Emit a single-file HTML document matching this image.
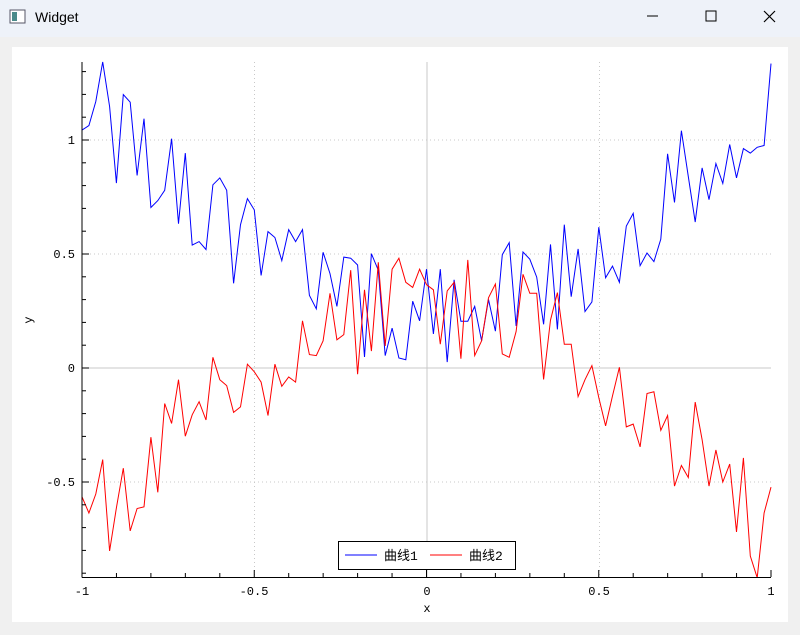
<!DOCTYPE html>
<html><head><meta charset="utf-8"><style>
body{margin:0;width:800px;height:635px;background:#f0f0f0;overflow:hidden;font-family:"Liberation Sans","Noto Sans CJK SC",sans-serif}
.tb{position:absolute;left:0;top:0;width:800px;height:37px;background:#eef2f9}
.pn{position:absolute;left:12px;top:47px;width:776px;height:575px;background:#fff}
svg{position:absolute;left:0;top:0}
</style></head><body>
<div class="tb"></div>
<div class="pn"></div>
<svg id="s" width="800" height="635" font-family="Liberation Mono, Noto Sans CJK SC, monospace" font-size="12">
<rect x="10" y="10" width="15" height="13" fill="#fff" stroke="#556" stroke-width="1"/>
<rect x="12" y="12" width="5" height="9" fill="#4a8a8a"/>
<text x="35" y="22" font-family="Liberation Sans, sans-serif" font-size="14" fill="#000">Widget</text>
<line x1="647" y1="16" x2="658" y2="16" stroke="#000"/>
<rect x="706" y="11" width="10" height="10" fill="none" stroke="#000"/>
<path d="M764 11 L775 22 M775 11 L764 22" stroke="#000" stroke-width="1.2"/>
<g stroke="#c8c8c8" stroke-dasharray="1,3">
<line x1="82" y1="140" x2="771" y2="140"/><line x1="82" y1="254" x2="771" y2="254"/><line x1="82" y1="482" x2="771" y2="482"/>
<line x1="254.5" y1="62" x2="254.5" y2="577"/><line x1="599.5" y1="62" x2="599.5" y2="577"/>
</g>
<g stroke="#c8c8c8"><line x1="82" y1="368" x2="771" y2="368"/><line x1="427" y1="62" x2="427" y2="577"/></g>
<g id="d"></g>
<g stroke="#000">
<line x1="82" y1="62" x2="82" y2="577.5"/><line x1="82" y1="577.5" x2="771" y2="577.5"/>
</g>
<g id="t" stroke="#000"></g>
<g fill="#000" text-anchor="end">
<text x="75" y="144">1</text><text x="75" y="258">0.5</text><text x="75" y="372">0</text><text x="75" y="486">-0.5</text>
</g>
<g fill="#000" text-anchor="middle">
<text x="82" y="595">-1</text><text x="254" y="595">-0.5</text><text x="427" y="595">0</text><text x="599" y="595">0.5</text><text x="771" y="595">1</text>
<text x="427" y="612">x</text>
<text transform="translate(32,320) rotate(-90)">y</text>
</g>
<rect x="338.5" y="541.5" width="177" height="28" fill="#fff" stroke="#000"/>
<line x1="345" y1="555" x2="377" y2="555" stroke="#00f"/>
<text x="384" y="560" fill="#000" font-size="13">曲线1</text>
<line x1="430" y1="555" x2="462" y2="555" stroke="#f00"/>
<text x="469" y="560" fill="#000" font-size="13">曲线2</text>
</svg>
<script>
var b1=[233,220,150,35,165,387,130,152,365,200,458,438,408,258,505,300,567,557,580,392,372,408,678,508,432,465,655,528,545,612,522,557,522,713,752,588,650,745,602,605,625,892,592,640,888,808,895,900,730,787,637];
var b2=[825,637,907,668,788,788,745,845,725,817,595,560,802,587,608,660,797,565,812,508,717,578,760,732,515,662,628,675,512,475,627,590,615,550,302,443,235,368,500,343,435,330,388,275,372,287,300,283,278,40];
var r1=[1298,1345,1290,1190,1455,1330,1215,1397,1332,1327,1125,1285,1027,1085,958,1122,1060,1022,1075,893,958,975,1053,1037,913,935,965,1062,913,977,950,965,787,885,888,845,707,842,827,640,942,697,875,617,860,637,605,675,690,637,682];
var r2=[697,855,700,675,897,610,888,845,720,680,883,893,818,652,707,707,957,785,705,855,855,1007,958,917,1010,1092,1005,922,1095,1087,1153,998,993,1105,1062,1267,1207,1242,1023,1132,1267,1162,1255,1203,1400,1185,1470,1533,1345,1270];
function pts(a){return a.map(function(v,i){return (82+i*6.89).toFixed(1)+','+(368+(v-924)/2.904).toFixed(1)}).join(' ')}
var d=document.getElementById('d');
d.innerHTML='<polyline fill="none" stroke="#00f" points="'+pts(b1.concat(b2))+'"/><polyline fill="none" stroke="#f00" points="'+pts(r1.concat(r2))+'"/>';
var t='';
for(var i=0;i<=20;i++){var x=82+i*34.45;t+='<line x1="'+x+'" y1="577" x2="'+x+'" y2="'+(i%5==0?570:573)+'"/>';}
for(var v=-0.9;v<=1.31;v+=0.1){var y=368-v*228;t+='<line x1="82" y1="'+y+'" x2="'+(Math.abs(v*10-Math.round(v*2)*5)<0.01?89:86)+'" y2="'+y+'"/>';}
document.getElementById('t').innerHTML=t;
</script>
</body></html>
